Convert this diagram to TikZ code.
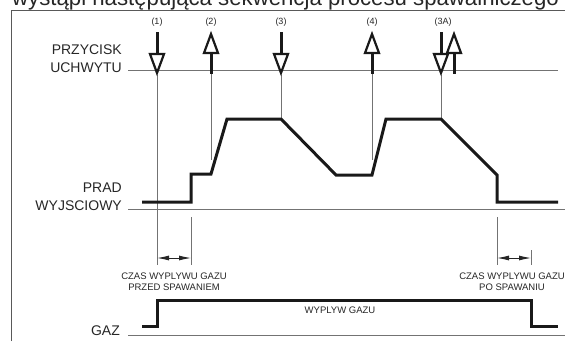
\documentclass[tikz,border=0pt]{standalone}
\usepackage{fontspec}
\setmainfont{Liberation Sans}
\usetikzlibrary{arrows.meta}
\tikzset{
  gline/.style={draw=black!55, line width=0.9pt},
  frameline/.style={draw=black!65, line width=1pt},
  curve/.style={draw=black!90, line width=3pt, line join=miter},
  btnshaft/.style={draw=black!90, line width=3pt},
  btnhead/.style={draw=black!90, line width=2.2pt, fill=white, line join=miter},
  biglbl/.style={font=\fontsize{14}{16}\selectfont, inner sep=0, text=black!85},
  numlbl/.style={font=\fontsize{9}{10}\selectfont, inner sep=0, text=black!85},
  smalllbl/.style={font=\fontsize{9.5}{10.5}\selectfont, inner sep=0, align=center, text=black!85},
  dimarrow/.style={draw=black!85, line width=0.9pt, {Latex[length=12pt,width=5pt]}-{Latex[length=12pt,width=5pt]}}
}
\newcommand{\btndownshape}[1]{%
  \draw[btnshaft] (#1,32) -- (#1,55);
  \draw[btnhead] (#1-7,54) -- (#1,73) -- (#1+7,54) -- cycle;}
\newcommand{\btnupshape}[1]{%
  \draw[btnshaft] (#1,52) -- (#1,74);
  \draw[btnhead] (#1-7,53) -- (#1,34) -- (#1+7,53) -- cycle;}
\begin{document}
\begin{tikzpicture}[x=1pt,y=-1pt]
\useasboundingbox (0,0) rectangle (565,341);
\clip (0,0) rectangle (565,341);
% title (cut off at top)
\node[anchor=base west, inner sep=0, font=\fontsize{22.2}{24}\selectfont, text=black!85] (title) at (12,5) {wystąpi następująca sekwencja procesu spawalniczego};
% frame
\draw[frameline] (11,341) -- (11,10) -- (565,10);
% base lines
\draw[gline] (128,70) -- (558,70);
\draw[gline] (128,209) -- (565,209);
\draw[gline] (128,335) -- (565,335);
% labels
\node[biglbl, anchor=base east] (l1) at (122,54) {PRZYCISK};
\node[biglbl, anchor=base east] (l2) at (122,72) {UCHWYTU};
\node[biglbl, anchor=base east] (l3) at (122,192) {PRAD};
\node[biglbl, anchor=base east] (l4) at (122,210) {WYJSCIOWY};
\node[biglbl, anchor=base east] (l5) at (120,335) {GAZ};
% vertical guide lines
\draw[gline] (157,75) -- (157,265);
\draw[gline] (211,73) -- (211,160);
\draw[gline] (281,75) -- (281,118);
\draw[gline] (372,73) -- (372,160);
\draw[gline] (441,75) -- (441,118);
\draw[gline] (191,217) -- (191,265);
\draw[gline] (497,217) -- (497,265);
\draw[gline] (531,250) -- (531,265);
% buttons
\btndownshape{157}
\btnupshape{211}
\btndownshape{281}
\btnupshape{372}
\btndownshape{441}
\btnupshape{454}
\node[numlbl] (n1) at (157,22) {(1)};
\node[numlbl] (n2) at (211,22) {(2)};
\node[numlbl] (n3) at (281,22) {(3)};
\node[numlbl] (n4) at (372,22) {(4)};
\node[numlbl] (n3a) at (443,22) {(3A)};
% current
\draw[curve] (142,202) -- (191,202) -- (191,174) -- (211,174) -- (227,119) -- (281,119)
  -- (336,175) -- (372,175) -- (386,119) -- (441,119) -- (497,175) -- (497,202) -- (558,202);
% gas
\draw[curve] (142,326) -- (157,326) -- (157,300) -- (531,300) -- (531,326) -- (558,326);
% dimensions
\draw[dimarrow] (157,258) -- (191,258);
\draw[dimarrow] (497,258) -- (531,258);
\node[smalllbl, anchor=base] (pre) at (174,290) {CZAS WYPLYWU GAZU\\PRZED SPAWANIEM};
\node[smalllbl, anchor=base] (post) at (512,290) {CZAS WYPLYWU GAZU\\PO SPAWANIU};
\node[smalllbl, anchor=base] (flow) at (340,313) {WYPLYW GAZU};
\end{tikzpicture}
\end{document}
